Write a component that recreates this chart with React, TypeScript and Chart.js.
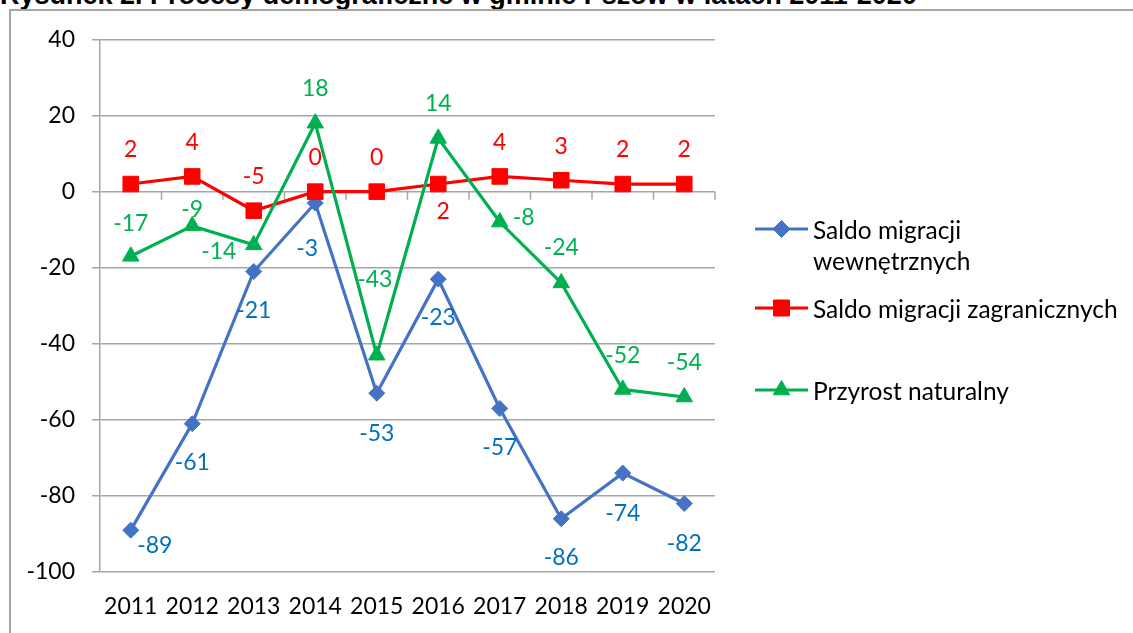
import React, { useEffect, useRef } from 'react';
import { Chart, registerables } from 'chart.js';

Chart.register(...registerables);

// ---- data ----
const years = ['2011', '2012', '2013', '2014', '2015', '2016', '2017', '2018', '2019', '2020'];
const internalMigration = [-89, -61, -21, -3, -53, -23, -57, -86, -74, -82];
const foreignMigration = [2, 4, -5, 0, 0, 2, 4, 3, 2, 2];
const naturalGrowth = [-17, -9, -14, 18, -43, 14, -8, -24, -52, -54];
const yMin = -100;
const yMax = 40;
const yStep = 20;
const seriesNames = ['Saldo migracji wewnętrznych', 'Saldo migracji zagranicznych', 'Przyrost naturalny'];
const legendLines = [['Saldo migracji', 'wewnętrznych'], ['Saldo migracji zagranicznych'], ['Przyrost naturalny']];
const titleText = 'Rysunek 2. Procesy demograficzne w gminie Pszów w latach 2011-2020';

// ---- label placement (px offsets from the point) ----
const blueLabelOffsets = [[24, 15], [0, 39], [0, 39], [-8, 46], [0, 40], [0, 38], [0, 39], [0, 39], [0, 40], [0, 40]];
const redLabelOffsets = [[0, -34], [0, -34], [0, -34], [0, -34], [0, -34], [5, 28], [0, -34], [0, -34], [0, -34], [0, -34]];
const greenLabelOffsets = [[0, -33], [0, -16], [-35, 7], [0, -35], [-2, -76], [0, -35], [24, -4], [0, -35], [0, -34], [0, -34]];

const FONT = 'Lato';
const BLUE = '#4472C4';
const RED = '#FF0000';
const GREEN = '#00B050';
const GRID = '#A6A6A6';

function drawMarker(ctx: CanvasRenderingContext2D, kind: string, x: number, y: number, color: string) {
  ctx.save();
  ctx.fillStyle = color;
  ctx.strokeStyle = color;
  ctx.lineWidth = 1;
  ctx.beginPath();
  if (kind === 'diamond') {
    const r = 8.5;
    ctx.moveTo(x, y - r);
    ctx.lineTo(x + r, y);
    ctx.lineTo(x, y + r);
    ctx.lineTo(x - r, y);
    ctx.closePath();
  } else if (kind === 'square') {
    const h = 8;
    ctx.rect(x - h, y - h, 2 * h, 2 * h);
  } else {
    const r = 9.5;
    ctx.moveTo(x, y - r);
    ctx.lineTo(x + r * 0.866, y + r / 2);
    ctx.lineTo(x - r * 0.866, y + r / 2);
    ctx.closePath();
  }
  ctx.fill();
  ctx.stroke();
  ctx.restore();
}

const customPlugin = {
  id: 'custom',
  beforeDatasetsDraw(chart: any) {
    const { ctx, chartArea } = chart;
    const y0 = chart.scales.y.getPixelForValue(0);
    const n = years.length;
    const w = (chartArea.right - chartArea.left) / n;
    ctx.save();
    ctx.strokeStyle = GRID;
    ctx.lineWidth = 1.5;
    ctx.beginPath();
    for (let i = 1; i <= n; i++) {
      const x = chartArea.left + i * w;
      ctx.moveTo(x, y0);
      ctx.lineTo(x, y0 + 8);
    }
    ctx.stroke();
    ctx.restore();
  },
  afterDatasetsDraw(chart: any) {
    const { ctx } = chart;
    const labelSets = [
      { data: internalMigration, offsets: blueLabelOffsets, color: '#0070C0', ds: 0 },
      { data: foreignMigration, offsets: redLabelOffsets, color: RED, ds: 1 },
      { data: naturalGrowth, offsets: greenLabelOffsets, color: GREEN, ds: 2 },
    ];
    ctx.save();
    ctx.font = `23px ${FONT}`;
    ctx.textAlign = 'center';
    ctx.textBaseline = 'middle';
    for (const set of labelSets) {
      const meta = chart.getDatasetMeta(set.ds);
      ctx.fillStyle = set.color;
      meta.data.forEach((pt: any, i: number) => {
        const [dx, dy] = set.offsets[i];
        ctx.fillText(String(set.data[i]), pt.x + dx, pt.y + dy);
      });
    }
    // legend
    const legendY = [229, 308, 390];
    const kinds = ['diamond', 'square', 'triangle'];
    const colors = [BLUE, RED, GREEN];
    ctx.textAlign = 'left';
    ctx.font = `24.5px ${FONT}`;
    for (let k = 0; k < 3; k++) {
      const y = legendY[k];
      ctx.strokeStyle = colors[k];
      ctx.lineWidth = 3;
      ctx.beginPath();
      ctx.moveTo(755, y);
      ctx.lineTo(808, y);
      ctx.stroke();
      drawMarker(ctx, kinds[k], 781.5, y, colors[k]);
      ctx.fillStyle = '#000';
      legendLines[k].forEach((line, j) => {
        ctx.fillText(line, 813, y + 2 + j * 31);
      });
    }
    ctx.restore();
  },
};

export default function App() {
  const canvasRef = useRef<HTMLCanvasElement | null>(null);

  useEffect(() => {
    if (!canvasRef.current) return;
    const chart = new Chart(canvasRef.current, {
      type: 'line',
      data: {
        labels: years,
        datasets: [
          {
            label: seriesNames[0],
            data: internalMigration,
            borderColor: BLUE,
            backgroundColor: BLUE,
            borderWidth: 3.2,
            pointStyle: 'rectRot',
            pointRadius: 8,
            pointBorderWidth: 1,
            tension: 0,
            order: 2,
          },
          {
            label: seriesNames[1],
            data: foreignMigration,
            borderColor: RED,
            backgroundColor: RED,
            borderWidth: 3.2,
            pointStyle: 'rect',
            pointRadius: 11,
            pointBorderWidth: 1,
            tension: 0,
            order: 1,
          },
          {
            label: seriesNames[2],
            data: naturalGrowth,
            borderColor: GREEN,
            backgroundColor: GREEN,
            borderWidth: 3.2,
            pointStyle: 'triangle',
            pointRadius: 9.5,
            pointBorderWidth: 1,
            tension: 0,
            order: 0,
          },
        ],
      },
      options: {
        responsive: false,
        animation: false,
        devicePixelRatio: 1,
        layout: { padding: { left: 0, right: 418, top: 39.5, bottom: 0 } },
        plugins: {
          legend: { display: false },
          title: { display: false },
          tooltip: { enabled: false },
        },
        scales: {
          x: {
            offset: true,
            grid: { display: false, drawTicks: false },
            border: { display: false },
            ticks: {
              color: '#000',
              font: { family: FONT, size: 23 },
              padding: 21,
              maxRotation: 0,
              autoSkip: false,
            },
            afterFit(scale: any) {
              scale.height = 61;
            },
          },
          y: {
            min: yMin,
            max: yMax,
            grid: { color: GRID, lineWidth: 1.5, tickLength: 8, drawTicks: true },
            border: { display: true, color: GRID, width: 1.5 },
            ticks: {
              stepSize: yStep,
              color: '#000',
              font: { family: FONT, size: 23 },
              padding: 17,
              callback: (v: any) => String(v),
            },
            afterFit(scale: any) {
              scale.width = 100;
            },
          },
        },
      },
      plugins: [customPlugin],
    });
    return () => chart.destroy();
  }, []);

  return (
    <div style={{ position: 'fixed', left: 0, top: 0, width: 1133, height: 633, overflow: 'hidden', background: '#fff' }}>
      <div
        style={{
          position: 'absolute',
          left: 0,
          top: -18,
          fontFamily: '"Liberation Sans", Arial, sans-serif',
          fontWeight: 'bold',
          fontSize: 27,
          lineHeight: '27px',
          whiteSpace: 'nowrap',
          color: '#000',
        }}
      >
        {titleText}
      </div>
      <div
        style={{
          position: 'absolute',
          left: 9,
          top: 9,
          width: 1140,
          height: 640,
          border: '2px solid #A6A6A6',
          boxSizing: 'border-box',
        }}
      />
      <canvas
        ref={canvasRef}
        width={1133}
        height={633}
        style={{ position: 'absolute', left: 0, top: 0, width: 1133, height: 633, display: 'block' }}
      />
    </div>
  );
}
